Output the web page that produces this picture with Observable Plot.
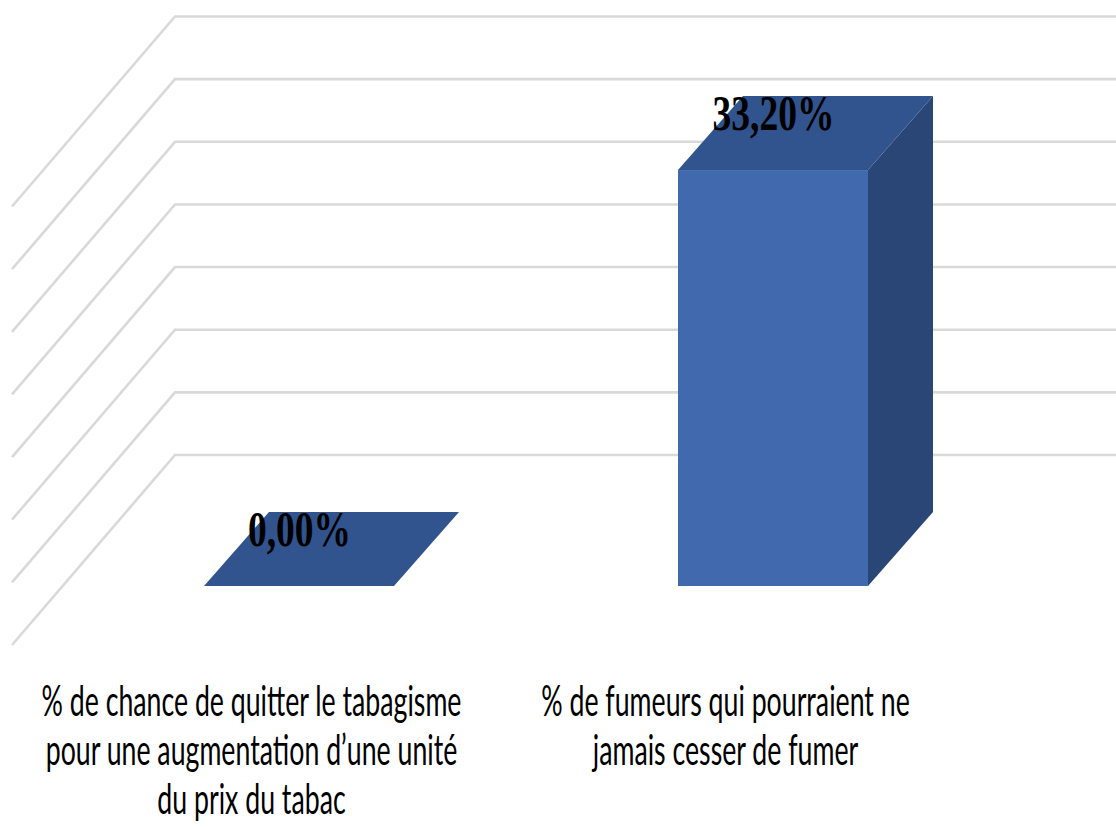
<!DOCTYPE html>
<html>
<head>
<meta charset="utf-8">
<script src="https://cdn.jsdelivr.net/npm/d3@7"></script>
<script src="https://cdn.jsdelivr.net/npm/@observablehq/plot@0.6"></script>
<style>
  html, body { margin: 0; padding: 0; background: #ffffff; }
  #chart svg { display: block; }
</style>
</head>
<body>
<div id="chart"></div>
<script>
// ---- data ----
const categories = ["chance", "fumeurs"];
const tickLabels = [
  "% de chance de quitter le tabagisme\npour une augmentation d’une unité\ndu prix du tabac",
  "% de fumeurs qui pourraient ne\njamais cesser de fumer"
];
const values = [0.00, 33.20];
const valueLabels = ["0,00%", "33,20%"];
const gridTicks = [0, 5, 10, 15, 20, 25, 30, 35];

// ---- styling ----
const FRONT = "#4169ae";
const TOP = "#31548f";
const SIDE = "#2a4677";
const GRID = "#d9d9d9";
const DEPTH = {dx: 65, dy: -74};                 // bar depth (px)
const WALL = {backDx: -29, backDy: -131, sideDx: -163, sideDy: 190}; // wall geometry (px)

const data = categories.map((c, i) => ({category: c, value: values[i], label: valueLabels[i]}));

const chart = Plot.plot({
  width: 1116,
  height: 827,
  marginTop: 147.5,
  marginBottom: 241,
  marginLeft: 204,
  marginRight: 248.4,
  x: {domain: categories, paddingInner: 0.6, paddingOuter: 0, axis: null},
  y: {domain: [0, 35], axis: null},
  style: {background: "#ffffff", overflow: "visible"},
  marks: [
    // back wall + side wall gridlines
    Plot.ruleY(gridTicks, {
      y: d => d,
      render(I, scales, vals, dims) {
        const g = d3.create("svg:g").attr("fill", "none").attr("stroke", GRID).attr("stroke-width", 2.6);
        const x0 = dims.marginLeft + WALL.backDx;
        for (const i of I) {
          const yb = vals.y[i] + WALL.backDy;
          g.append("path").attr("d",
            `M${x0 + WALL.sideDx},${yb + WALL.sideDy}L${x0},${yb}L${dims.width},${yb}`);
        }
        return g.node();
      }
    }),
    // 3D bars
    Plot.barY(data, {
      x: "category",
      y: "value",
      fill: FRONT,
      render(I, scales, vals, dims) {
        const g = d3.create("svg:g");
        const bw = scales.x.bandwidth();
        for (const i of I) {
          const x1 = vals.x[i], x2 = x1 + bw;
          const yT = Math.min(vals.y1[i], vals.y2[i]);
          const yB = Math.max(vals.y1[i], vals.y2[i]);
          const {dx, dy} = DEPTH;
          g.append("path").attr("fill", SIDE)
            .attr("d", `M${x2},${yT}L${x2 + dx},${yT + dy}L${x2 + dx},${yB + dy}L${x2},${yB}Z`);
          g.append("path").attr("fill", TOP)
            .attr("d", `M${x1},${yT}L${x2},${yT}L${x2 + dx},${yT + dy}L${x1 + dx},${yT + dy}Z`);
          if (yB - yT > 0) {
            g.append("rect").attr("fill", FRONT)
              .attr("x", x1).attr("y", yT).attr("width", bw).attr("height", yB - yT);
          }
        }
        return g.node();
      }
    }),
    // value labels
    Plot.text(data, {
      x: "category",
      y: "value",
      text: "label",
      lineAnchor: "bottom",
      dy: -41,
      fontSize: 50,
      fontWeight: "bold",
      fontFamily: "'Liberation Serif', 'Times New Roman', serif",
      fill: "#000000"
    }),
    // category labels
    Plot.axisX({
      label: null,
      tickSize: 0,
      tickPadding: 95,
      dx: -48,
      fontSize: 42,
      lineHeight: 1.16,
      fontFamily: "Lato, 'Open Sans', sans-serif",
      fill: "#000000",
      tickFormat: c => tickLabels[categories.indexOf(c)]
    })
  ]
});

document.getElementById("chart").appendChild(chart);

// horizontally condense text (the reference is horizontally compressed)
function squeeze(el, s) {
  const x = +el.getAttribute("x") || 0, y = +el.getAttribute("y") || 0;
  el.removeAttribute("x"); el.removeAttribute("y");
  const t = el.getAttribute("transform") || "";
  el.setAttribute("transform", `${t} translate(${x},${y}) scale(${s},1)`);
}
const axisTexts = chart.querySelectorAll('g[aria-label="x-axis tick label"] text');
if (axisTexts.length) {
  const w = axisTexts[0].getBBox().width;
  const s = w > 0 ? 420 / w : 0.6;
  axisTexts.forEach(el => squeeze(el, s));
}
const valTexts = chart.querySelectorAll('g[aria-label="text"] text');
if (valTexts.length) {
  const w = valTexts[valTexts.length - 1].getBBox().width;
  const s = w > 0 ? 122 / w : 0.72;
  valTexts.forEach(el => squeeze(el, s));
}
</script>
</body>
</html>
